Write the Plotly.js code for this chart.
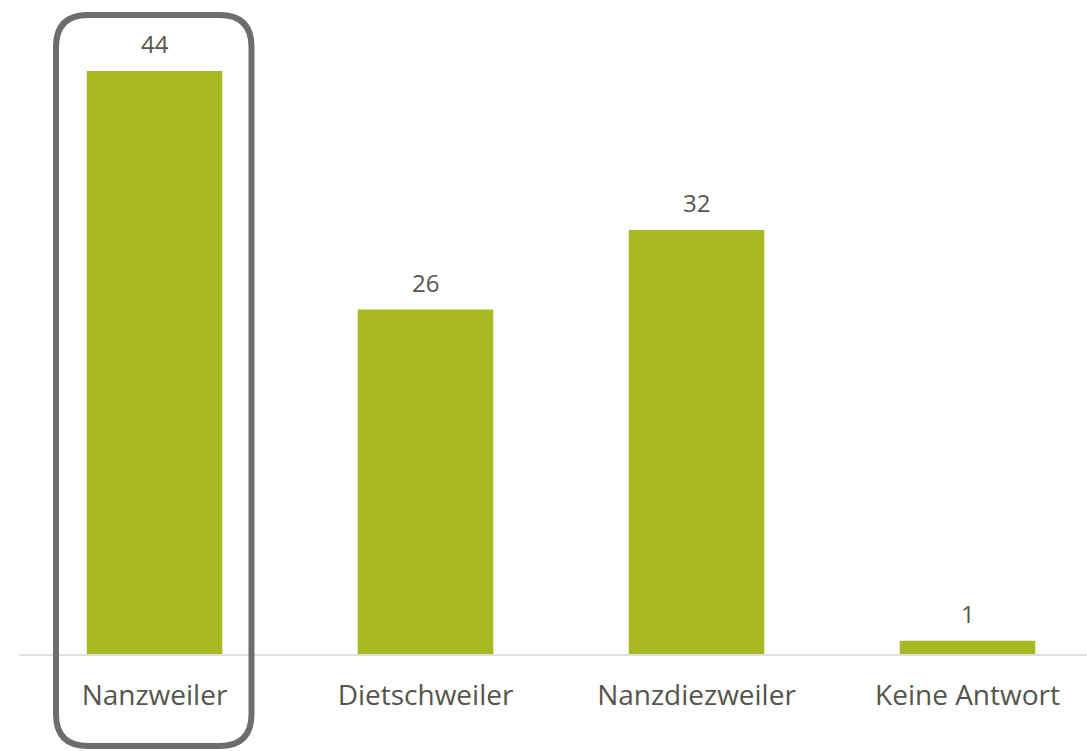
<!DOCTYPE html>
<html><head><meta charset="utf-8">
<script src="https://cdn.plot.ly/plotly-3.0.1.min.js"></script>
<style>html,body{margin:0;padding:0;background:#fff}#c{width:1087px;height:751px}</style>
</head><body><div id="c"></div>
<script>
const categories = ["Nanzweiler", "Dietschweiler", "Nanzdiezweiler", "Keine Antwort"];
const values = [44, 26, 32, 1];

const W = 1087, H = 751, L = 19, B = 97;
const pw = W - L, ph = H - B;
function px(x){return (x - L)/pw;}
function py(y){return (H - B - y)/ph;}
// rounded rectangle around first category (paper coords)
const x0=56, x1=251.5, y0=15, y1=746, r=32;
const path = `M ${px(x0+r)} ${py(y0)} L ${px(x1-r)} ${py(y0)} Q ${px(x1)} ${py(y0)} ${px(x1)} ${py(y0+r)} L ${px(x1)} ${py(y1-r)} Q ${px(x1)} ${py(y1)} ${px(x1-r)} ${py(y1)} L ${px(x0+r)} ${py(y1)} Q ${px(x0)} ${py(y1)} ${px(x0)} ${py(y1-r)} L ${px(x0)} ${py(y0+r)} Q ${px(x0)} ${py(y0)} ${px(x0+r)} ${py(y0)} Z`;

const labelAnns = categories.map((c,i)=>({
  x:c, y:values[i], xref:'x', yref:'y', text:String(values[i]),
  showarrow:false, yanchor:'bottom', yshift:9,
  font:{family:'Open Sans', size:24, color:'#55554d'}
}));

Plotly.newPlot('c', [{
  type:'bar', x:categories, y:values, width:0.5,
  marker:{color:'#a8b922'},
  hoverinfo:'none'
}], {
  width:W, height:H, margin:{l:L, r:0, t:0, b:B},
  paper_bgcolor:'#fff', plot_bgcolor:'#fff', showlegend:false,
  xaxis:{range:[-0.5, -0.5 + pw/271], showgrid:false, zeroline:false,
    showline:true, linecolor:'#dfdfdb', linewidth:2, ticks:'',
    ticklabelstandoff:15,
    tickfont:{family:'Open Sans', size:28, color:'#55554d'}},
  yaxis:{range:[0, (H-B)/13.25], visible:false},
  annotations:labelAnns,
  shapes:[{type:'path', xref:'paper', yref:'paper', path:path,
    line:{color:'#6d6d6d', width:6}, fillcolor:'rgba(0,0,0,0)', layer:'above'}]
}, {staticPlot:true});
</script></body></html>
